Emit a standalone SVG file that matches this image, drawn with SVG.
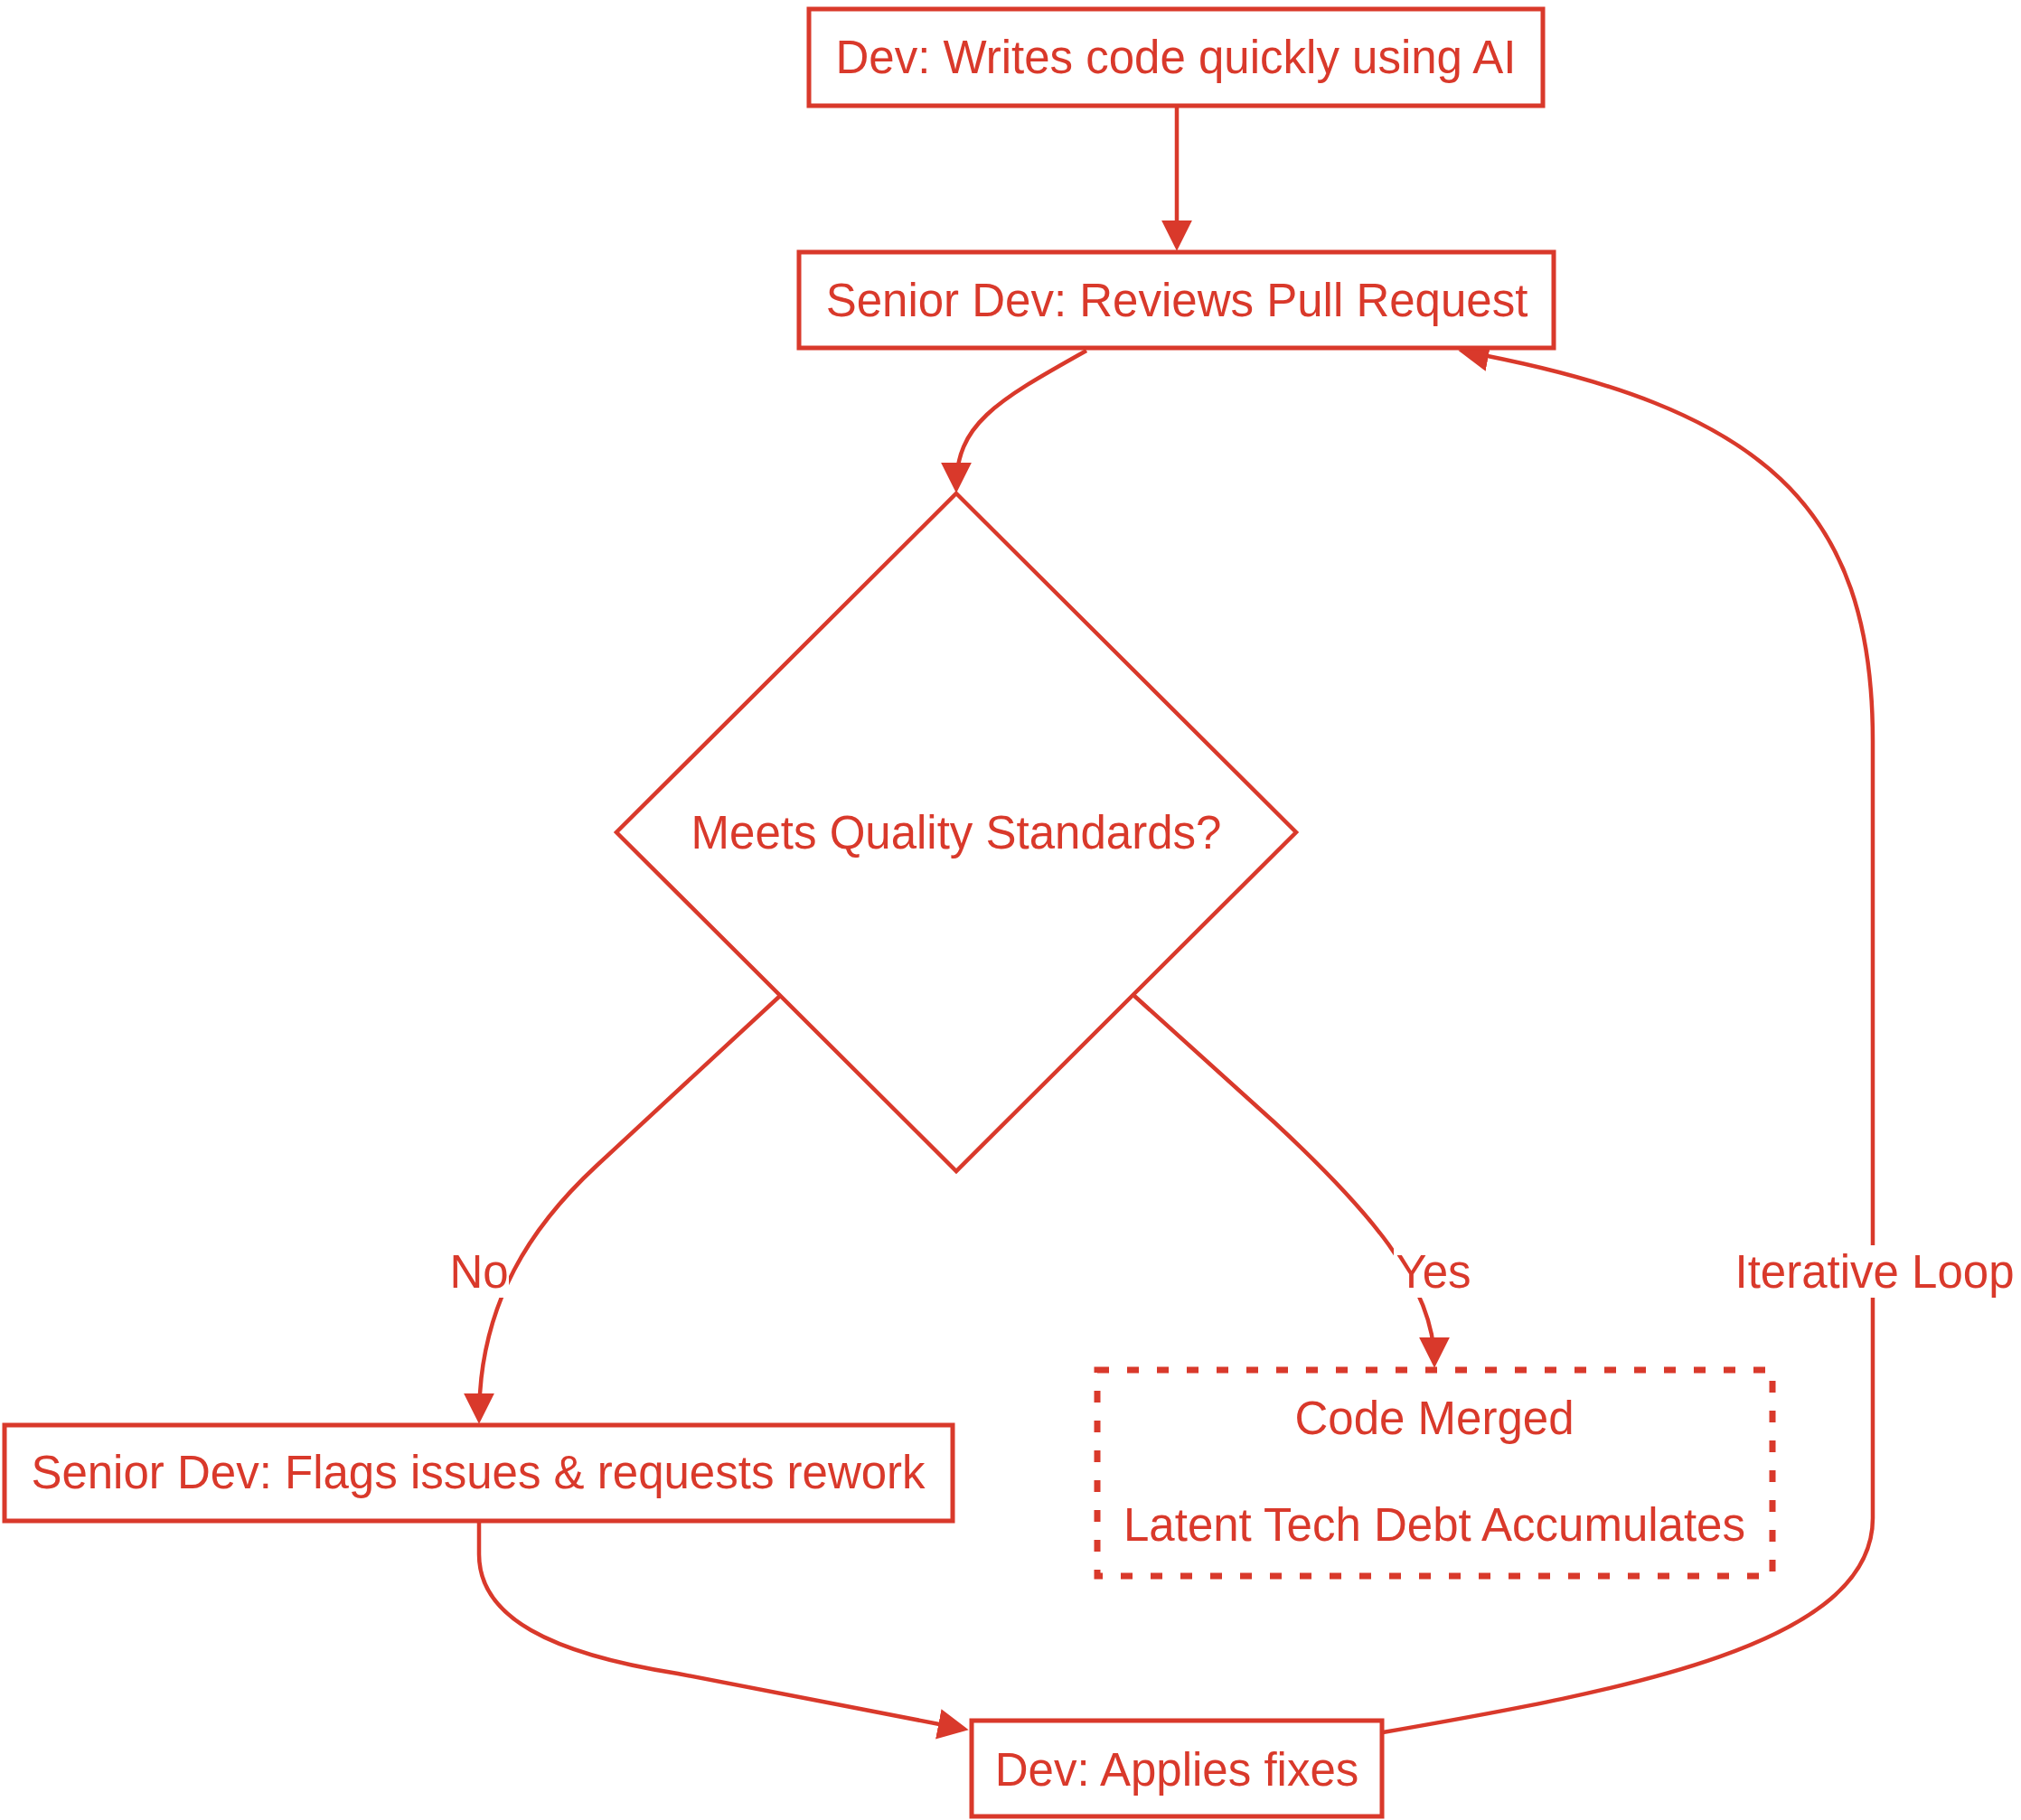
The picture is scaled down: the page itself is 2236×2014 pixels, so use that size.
<svg xmlns="http://www.w3.org/2000/svg" width="2236" height="2014" viewBox="0 0 2236 2014">
<style>
.node{fill:#ffffff;stroke:#D9392B;stroke-width:5}
.dash{fill:#ffffff;stroke:#D9392B;stroke-width:7;stroke-dasharray:13 20}
.edge{fill:none;stroke:#D9392B;stroke-width:4.5}
.t{font-family:"Liberation Sans",Arial,sans-serif;font-size:51px;fill:#D9392B;text-anchor:middle}
.lbg{fill:#ffffff}
</style>
<defs>
<marker id="arrow" viewBox="0 0 10 10" refX="8" refY="5" markerWidth="34" markerHeight="34" markerUnits="userSpaceOnUse" orient="auto">
<path d="M0,0 L10,5 L0,10 z" fill="#D9392B"/>
</marker>
</defs>
<rect width="2236" height="2014" fill="#ffffff"/>
<g id="connectors">
<path class="edge" d="M1302,118 L1302,271" marker-end="url(#arrow)"/>
<path class="edge" d="M1202,388 C1100,445 1058,470 1058,539" marker-end="url(#arrow)"/>
<path class="edge" d="M863,1102 L660,1290 C590,1355 530,1440 530,1569" marker-end="url(#arrow)"/>
<path class="edge" d="M1255,1102 L1410,1242 C1510,1335 1587,1420 1587,1507" marker-end="url(#arrow)"/>
<path class="edge" d="M530,1684 L530,1720 C530,1790 610,1830 750,1852 L1065,1913" marker-end="url(#arrow)"/>
<path class="edge" d="M1530,1917 C1800,1870 2072,1820 2072,1680 L2072,820 C2072,560 1950,450 1620,389" marker-end="url(#arrow)"/>
<g id="edge-labels">
<rect class="lbg" x="497" y="1378" width="66" height="58"/>
<text class="t" x="530" y="1425">No</text>
<rect class="lbg" x="1542" y="1378" width="89" height="58"/>
<text class="t" x="1586" y="1425">Yes</text>
<rect class="lbg" x="1919" y="1378" width="310" height="58"/>
<text class="t" x="2074" y="1425">Iterative Loop</text>
</g>
</g>
<g id="node-write">
<rect class="node" x="895" y="10" width="812" height="107"/>
<text class="t" x="1301" y="81">Dev: Writes code quickly using AI</text>
</g>
<g id="node-review">
<rect class="node" x="884" y="279" width="835" height="106"/>
<text class="t" x="1302" y="350">Senior Dev: Reviews Pull Request</text>
</g>
<g id="node-decision">
<polygon class="node" style="stroke-width:4.5" points="1058,546 1434,921 1058,1296 682,921"/>
<text class="t" x="1058" y="939">Meets Quality Standards?</text>
</g>
<g id="node-flags">
<rect class="node" x="5" y="1577" width="1049" height="106"/>
<text class="t" x="529" y="1647">Senior Dev: Flags issues &amp; requests rework</text>
</g>
<g id="node-merged">
<rect class="dash" x="1214" y="1516" width="747" height="228"/>
<text class="t" x="1587" y="1587">Code Merged</text>
<text class="t" x="1587" y="1705">Latent Tech Debt Accumulates</text>
</g>
<g id="node-fixes">
<rect class="node" x="1075" y="1904" width="454" height="106"/>
<text class="t" x="1302" y="1976">Dev: Applies fixes</text>
</g>
</svg>
